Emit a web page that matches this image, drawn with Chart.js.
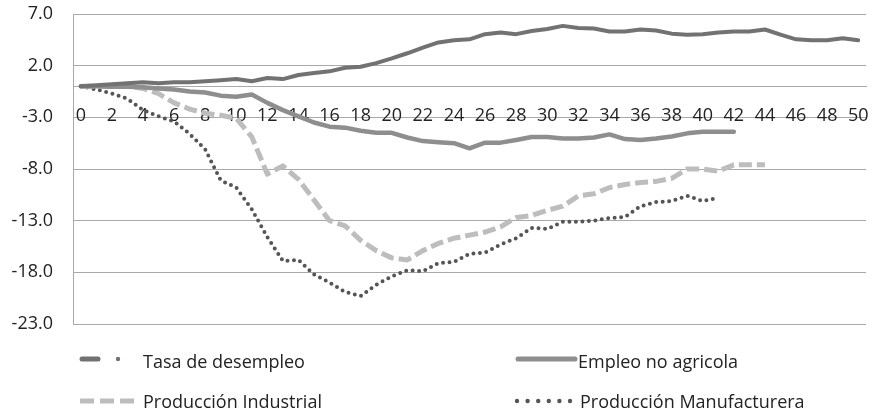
<!DOCTYPE html>
<html>
<head>
<meta charset="utf-8">
<script src="https://cdn.jsdelivr.net/npm/chart.js@4.4.1/dist/chart.umd.min.js"></script>
<style>
  html, body { margin: 0; padding: 0; background: #ffffff; }
  #wrap { width: 872px; height: 411px; position: relative; }
</style>
</head>
<body>
<div id="wrap"><canvas id="c"></canvas></div>
<script>
const categories = ['0','1','2','3','4','5','6','7','8','9','10','11','12','13','14','15','16','17','18','19','20','21','22','23','24','25','26','27','28','29','30','31','32','33','34','35','36','37','38','39','40','41','42','43','44','45','46','47','48','49','50'];

const tasaDesempleo = [0, 0.1, 0.2, 0.3, 0.4, 0.3, 0.4, 0.4, 0.5, 0.6, 0.7,
  0.5, 0.8, 0.7, 1.1, 1.3, 1.45, 1.8, 1.9, 2.25, 2.7,
  3.2, 3.75, 4.25, 4.45, 4.55, 5.05, 5.2, 5.05, 5.35, 5.55,
  5.85, 5.65, 5.6, 5.3, 5.3, 5.5, 5.4, 5.1, 5.0, 5.05,
  5.2, 5.3, 5.3, 5.5, 5.0, 4.55, 4.45, 4.45, 4.65, 4.45];

const empleoNoAgricola = [0, 0, -0.05, -0.05, -0.1, -0.2, -0.3, -0.5, -0.6, -0.9, -1.0,
  -0.8, -1.6, -2.3, -2.9, -3.5, -3.9, -4.0, -4.3, -4.5, -4.5,
  -4.95, -5.3, -5.4, -5.5, -6.0, -5.45, -5.45, -5.2, -4.9, -4.9,
  -5.05, -5.05, -4.95, -4.65, -5.1, -5.2, -5.05, -4.85, -4.55, -4.4,
  -4.4, -4.4];

const produccionIndustrial = [0, 0, 0, 0, -0.2, -0.7, -1.6, -2.2, -2.6, -2.8, -3.1,
  -4.9, -8.5, -7.7, -9.0, -11.0, -13.0, -13.5, -14.9, -15.9, -16.6,
  -16.8, -15.9, -15.2, -14.7, -14.4, -14.1, -13.6, -12.7, -12.5, -12.0,
  -11.6, -10.6, -10.4, -9.8, -9.5, -9.3, -9.2, -8.9, -8.0, -8.0,
  -8.2, -7.6, -7.6, -7.6];

const produccionManufacturera = [0, -0.3, -0.7, -1.2, -2.3, -2.9, -3.4, -4.6, -6.1, -9.1, -9.8,
  -11.9, -14.6, -16.9, -16.8, -18.2, -19.0, -19.9, -20.3, -19.2, -18.4,
  -17.8, -17.9, -17.1, -17.0, -16.2, -16.1, -15.3, -14.7, -13.7, -13.8,
  -13.1, -13.1, -13.0, -12.75, -12.65, -11.6, -11.2, -11.1, -10.6, -11.1,
  -10.8];

const seriesNames = ['Tasa de desempleo', 'Empleo no agricola', 'Producción Industrial', 'Producción Manufacturera'];
const yTicks = [7, 2, -3, -8, -13, -18, -23];

const FONT = "'Open Sans', 'Noto Sans', sans-serif";
Chart.defaults.font.family = FONT;
Chart.defaults.font.size = 18;
Chart.defaults.color = '#222222';

const colors = ['#727272', '#8e8e8e', '#bdbdbd', '#555555'];

const legendPlugin = {
  id: 'customLegend',
  afterDraw(chart) {
    const ctx = chart.ctx;
    const ds = chart.data.datasets;
    ctx.save();
    ctx.font = "18px " + FONT;
    ctx.fillStyle = '#222222';
    ctx.textBaseline = 'alphabetic';
    ctx.textAlign = 'left';

    const r1 = 359, r2 = 401;
    // Tasa de desempleo: dash + dot
    ctx.strokeStyle = ds[0].borderColor;
    ctx.lineWidth = 5;
    ctx.lineCap = 'round';
    ctx.beginPath(); ctx.moveTo(82, r1); ctx.lineTo(98, r1); ctx.stroke();
    ctx.fillStyle = ds[0].borderColor;
    ctx.beginPath(); ctx.arc(118, r1, 2.2, 0, Math.PI * 2); ctx.fill();
    ctx.fillStyle = '#222222';
    ctx.fillText(ds[0].label, 143, 368);

    // Empleo no agricola: solid line
    ctx.strokeStyle = ds[1].borderColor;
    ctx.lineCap = 'round';
    ctx.beginPath(); ctx.moveTo(518, r1); ctx.lineTo(575, r1); ctx.stroke();
    ctx.fillStyle = '#222222';
    ctx.fillText(ds[1].label, 578, 368);

    // Producción Industrial: dashes
    ctx.strokeStyle = ds[2].borderColor;
    ctx.lineCap = 'butt';
    ctx.setLineDash([14, 6]);
    ctx.beginPath(); ctx.moveTo(80, r2); ctx.lineTo(139, r2); ctx.stroke();
    ctx.setLineDash([]);
    ctx.fillStyle = '#222222';
    ctx.fillText(ds[2].label, 143, 408);

    // Producción Manufacturera: dots
    ctx.fillStyle = ds[3].borderColor;
    for (let k = 0; k < 6; k++) {
      ctx.beginPath(); ctx.arc(517 + k * 10.6, r2, 2.2, 0, Math.PI * 2); ctx.fill();
    }
    ctx.fillStyle = '#222222';
    ctx.fillText(ds[3].label, 580, 408);
    ctx.restore();
  }
};

new Chart(document.getElementById('c'), {
  type: 'line',
  data: {
    labels: categories,
    datasets: [
      { label: seriesNames[0], data: tasaDesempleo, borderColor: colors[0], backgroundColor: colors[0],
        borderWidth: 4, pointRadius: 0, tension: 0, borderJoinStyle: 'round', borderCapStyle: 'round', fill: false },
      { label: seriesNames[1], data: empleoNoAgricola, borderColor: colors[1], backgroundColor: colors[1],
        borderWidth: 4.5, pointRadius: 0, tension: 0, borderJoinStyle: 'round', borderCapStyle: 'round', fill: false },
      { label: seriesNames[2], data: produccionIndustrial, borderColor: colors[2], backgroundColor: colors[2],
        borderWidth: 5, pointRadius: 0, tension: 0, borderDash: [13, 5], borderJoinStyle: 'round', borderCapStyle: 'butt', fill: false },
      { label: seriesNames[3], data: produccionManufacturera, borderColor: colors[3], backgroundColor: colors[3],
        borderWidth: 4, pointRadius: 0, tension: 0, borderDash: [0, 6.5], borderJoinStyle: 'round', borderCapStyle: 'round', fill: false }
    ]
  },
  options: {
    responsive: true,
    maintainAspectRatio: false,
    animation: false,
    layout: { padding: { left: 0, top: 14, right: 6, bottom: 87 } },
    plugins: {
      legend: { display: false },
      tooltip: { enabled: false }
    },
    scales: {
      x: {
        type: 'category',
        position: { y: 0 },
        offset: true,
        grid: { display: true, drawOnChartArea: false, drawTicks: false },
        border: { display: true, color: '#a9a9a9', width: 1 },
        ticks: {
          autoSkip: false,
          maxRotation: 0,
          minRotation: 0,
          padding: 19,
          color: '#222222',
          font: { size: 18, family: FONT },
          callback: function (value, index) { return index % 2 === 0 ? categories[index] : ''; }
        },
        afterFit: function (scale) { scale.paddingLeft = 0; scale.paddingRight = 0; scale.paddingTop = 0; scale.paddingBottom = 0; }
      },
      y: {
        min: -23,
        max: 7,
        afterBuildTicks: function (scale) { scale.ticks = yTicks.map(v => ({ value: v })); },
        grid: { color: '#a9a9a9', lineWidth: 1, drawTicks: false },
        border: { display: true, color: '#a9a9a9', width: 1 },
        ticks: {
          padding: 20,
          color: '#222222',
          font: { size: 18, family: FONT },
          callback: function (value) { return Number(value).toFixed(1); }
        },
        afterFit: function (scale) { scale.width = 73; scale.paddingTop = 0; scale.paddingBottom = 0; }
      }
    }
  },
  plugins: [legendPlugin]
});
</script>
</body>
</html>
